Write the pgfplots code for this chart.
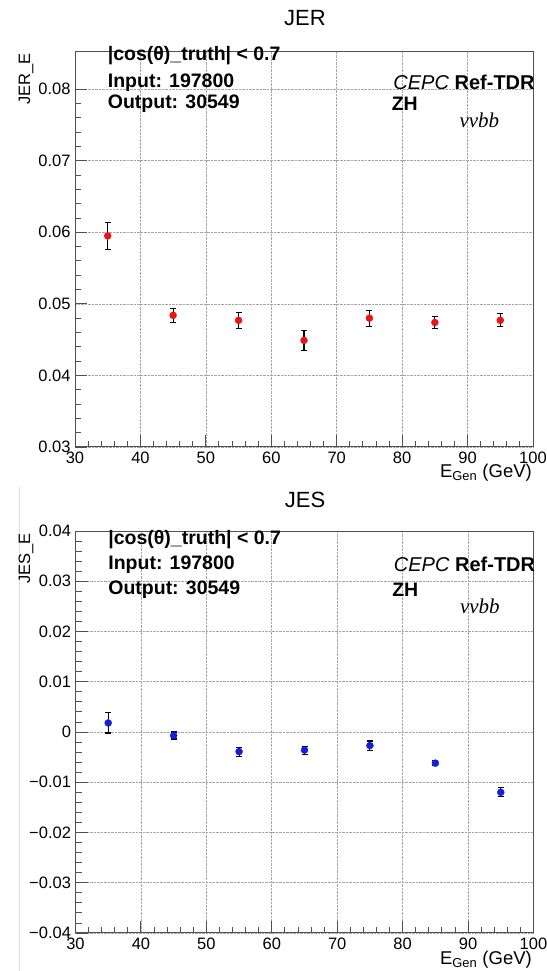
\documentclass[border=0pt]{standalone}
\usepackage{fontspec}
\setmainfont{Liberation Sans}
\newfontfamily\serifit{Liberation Serif}
\usepackage{pgfplots}
\pgfplotsset{compat=1.18}
\definecolor{rootRed}{RGB}{235,20,20}
\definecolor{rootBlue}{RGB}{20,30,225}
\definecolor{frameGray}{RGB}{80,80,80}

\pgfplotsset{
  rootstyle/.style={
    scale only axis, clip=false,
    xmin=30, xmax=100, xtick={30,40,...,100},
    minor x tick num=4, minor y tick num=4,
    xtick pos=bottom, ytick pos=left, tick align=inside,
    major tick length=12pt, minor tick length=6pt,
    tick style={frameGray, line width=0.9pt},
    axis line style={frameGray, line width=1pt},
    grid=major, grid style={densely dotted, gray!70, line width=0.6pt},
    ticklabel style={font=\fontsize{16.5}{18}\selectfont},
    /pgf/number format/assume math mode=true,
    scaled y ticks=false,
    xticklabel style={yshift=-1pt},
    yticklabel style={xshift=-1pt},
  },
  errstyle/.style={
    only marks, mark=*, mark size=3.5pt, color=#1,
    error bars/.cd, y dir=both, y explicit,
    error bar style={black, line width=1.1pt},
    error mark options={black, rotate=90, mark size=3pt, line width=1.1pt},
  },
}

\newcommand{\infotext}[4]{%
  \node[anchor=west, font=\bfseries\fontsize{19.5}{21}\selectfont] at (rel axis cs:0.064,#1) {|cos(θ)\_truth| < 0.7};
  \node[anchor=west, font=\bfseries\fontsize{19.5}{21}\selectfont] at (rel axis cs:0.064,#2) {Input: 197800};
  \node[anchor=west, font=\bfseries\fontsize{19.5}{21}\selectfont] at (rel axis cs:0.064,#3) {Output: 30549};
  \node[anchor=east, font=\fontsize{20}{22}\selectfont, inner xsep=0pt] at (rel axis cs:1.004,#2) {\textit{CEPC} \textbf{Ref-TDR}};
  \node[anchor=west, font=\bfseries\fontsize{19.5}{21}\selectfont] at (rel axis cs:0.684,#3) {ZH};
  \node[anchor=west, font=\serifit\itshape\fontsize{21}{23}\selectfont] at (rel axis cs:0.832,#4) {vvbb};
}

\begin{document}
\begin{tikzpicture}
\useasboundingbox (0pt,0pt) rectangle (546pt,971pt);

% pad edge of the lower canvas
\draw[gray!25, line width=0.8pt] (19pt,0pt) -- (19pt,484pt);

% ---- JER ----
\node[font=\fontsize{22}{24}\selectfont] at (305pt,953pt) {JER};
\begin{axis}[rootstyle,
  at={(75pt,524pt)}, anchor=south west, width=458pt, height=395pt,
  ymin=0.03, ymax=0.0852,
  ytick={0.03,0.04,0.05,0.06,0.07,0.08},
  yticklabels={0.03,0.04,0.05,0.06,0.07,0.08},
]
\addplot[errstyle=rootRed] coordinates {
  (35,0.0595) +- (0,0.0019)
  (45,0.0484) +- (0,0.0010)
  (55,0.0477) +- (0,0.0011)
  (65,0.0449) +- (0,0.0014)
  (75,0.0480) +- (0,0.0011)
  (85,0.0474) +- (0,0.0008)
  (95,0.0477) +- (0,0.0009)
};
\infotext{0.99}{0.922}{0.870}{0.826}
\end{axis}
\node[rotate=90, anchor=east, font=\fontsize{16.5}{18}\selectfont] at (26pt,921pt) {JER\_E};
\node[anchor=east, font=\fontsize{18.5}{20}\selectfont, inner xsep=0pt] at (532pt,498pt) {E\textsubscript{Gen} (GeV)};

% ---- JES ----
\node[font=\fontsize{22}{24}\selectfont] at (305pt,471pt) {JES};
\begin{axis}[rootstyle,
  at={(75.5pt,38pt)}, anchor=south west, width=458pt, height=402pt,
  ymin=-0.04, ymax=0.04,
  ytick={-0.04,-0.03,-0.02,-0.01,0,0.01,0.02,0.03,0.04},
  yticklabels={−0.04,−0.03,−0.02,−0.01,0,0.01,0.02,0.03,0.04},
]
\addplot[errstyle=rootBlue] coordinates {
  (35,0.0018) +- (0,0.0020)
  (45,-0.0007) +- (0,0.0007)
  (55,-0.0039) +- (0,0.0009)
  (65,-0.0036) +- (0,0.0008)
  (75,-0.0027) +- (0,0.0009)
  (85,-0.0062) +- (0,0.0005)
  (95,-0.0120) +- (0,0.0009)
};
\infotext{0.978}{0.917}{0.854}{0.812}
\end{axis}
\node[rotate=90, anchor=east, font=\fontsize{16.5}{18}\selectfont] at (26pt,441pt) {JES\_E};
\node[anchor=east, font=\fontsize{18.5}{20}\selectfont, inner xsep=0pt] at (532pt,11pt) {E\textsubscript{Gen} (GeV)};
\end{tikzpicture}
\end{document}
